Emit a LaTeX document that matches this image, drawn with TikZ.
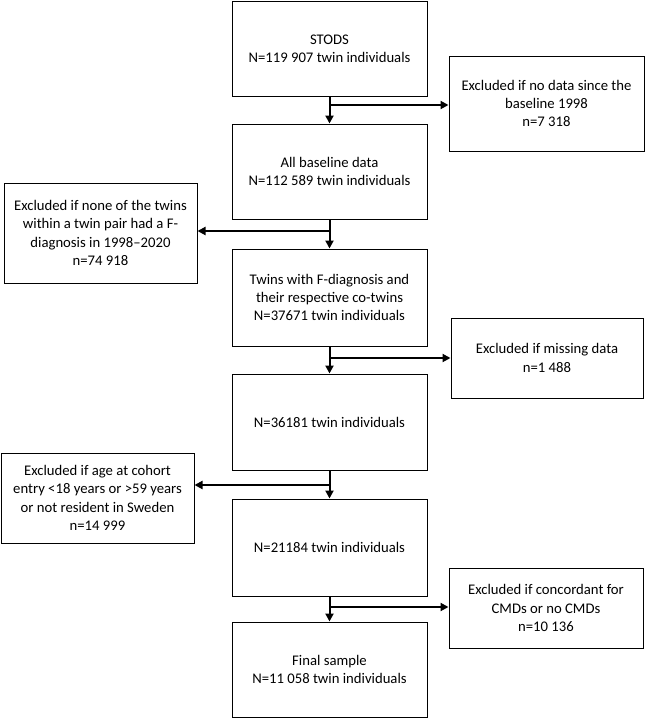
\documentclass[tikz,border=0pt]{standalone}
\usepackage{fontspec}
\setmainfont{Carlito}
\usetikzlibrary{arrows.meta}

\begin{document}
\begin{tikzpicture}[x=1pt, y=-1pt,
  font=\fontsize{14.7}{18.3}\selectfont,
  mainbox/.style={rectangle, draw, line width=1pt, minimum width=195pt, minimum height=95pt, align=center, inner sep=0pt},
  exclbox/.style={rectangle, draw, line width=1pt, align=center, inner sep=0pt},
  flow/.style={-{Triangle[length=8pt,width=8pt]}, line width=2pt}]

\useasboundingbox (0,0) rectangle (646,718);

% main flow
\node (stods) [mainbox] at (329.5,48.5) {STODS\\N=119 907 twin individuals};
\node (base) [mainbox] at (329.5,171.5) {All baseline data\\N=112 589 twin individuals};
\node (fdiag) [mainbox, minimum height=97pt] at (329.5,297.5)
{Twins with F-diagnosis and\\their respective co-twins\\N=37671 twin individuals};
\node (n36) [mainbox, minimum height=96pt] at (329.5,422) {N=36181 twin individuals};
\node (n21) [mainbox, minimum height=97pt] at (329.5,547.5) {N=21184 twin individuals};
\node (final) [mainbox] at (329.5,669.5) {Final sample\\N=11 058 twin individuals};

% exclusions
\node (exdata) [exclbox, minimum width=195pt, minimum height=95pt] at (546.5,103.5)
{Excluded if no data since the\\baseline 1998\\n=7 318};
\node (exnone) [exclbox, minimum width=193pt, minimum height=100pt] at (100.5,233)
{Excluded if none of the twins\\within a twin pair had a F-\\diagnosis in 1998--2020\\n=74 918};
\node (exmiss) [exclbox, minimum width=192pt, minimum height=80pt] at (547,358)
{Excluded if missing data\\n=1 488};
\node (exage) [exclbox, minimum width=193pt, minimum height=90pt] at (97.5,498)
{Excluded if age at cohort\\entry <18 years or >59 years\\or not resident in Sweden\\n=14 999};
\node (excmd) [exclbox, minimum width=194pt, minimum height=80pt] at (546,608)
{Excluded if concordant for\\CMDs or no CMDs\\n=10 136};

% branch points
\coordinate (j1) at (329.5,105);
\coordinate (j2) at (329.5,231);
\coordinate (j3) at (329.5,358);
\coordinate (j4) at (329.5,485);
\coordinate (j5) at (329.5,607);

\draw[flow] (stods) -- (base);
\draw[flow] (base) -- (fdiag);
\draw[flow] (fdiag) -- (n36);
\draw[flow] (n36) -- (n21);
\draw[flow] (n21) -- (final);

\draw[flow] (j1) -- (j1 -| exdata.west);
\draw[flow] (j2) -- (j2 -| exnone.east);
\draw[flow] (j3) -- (j3 -| exmiss.west);
\draw[flow] (j4) -- (j4 -| exage.east);
\draw[flow] (j5) -- (j5 -| excmd.west);

\end{tikzpicture}
\end{document}
